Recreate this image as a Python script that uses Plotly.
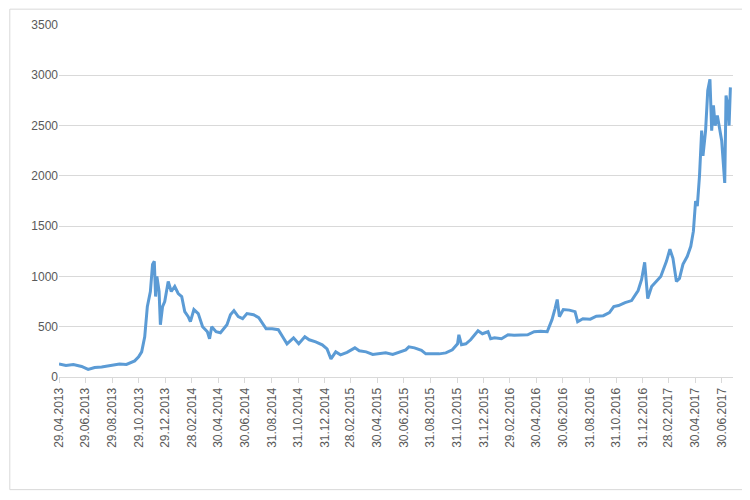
import plotly.graph_objects as go
import pandas as pd

dates = ["2013-04-29","2013-05-15","2013-06-01","2013-06-20","2013-07-05","2013-07-20","2013-08-05","2013-08-25","2013-09-15","2013-10-01","2013-10-20","2013-10-29","2013-11-05","2013-11-12","2013-11-18","2013-11-25","2013-11-30","2013-12-04","2013-12-07","2013-12-10","2013-12-15","2013-12-18","2013-12-23","2013-12-28","2014-01-05","2014-01-12","2014-01-20","2014-01-28","2014-02-05","2014-02-12","2014-02-20","2014-02-25","2014-03-05","2014-03-15","2014-03-25","2014-04-05","2014-04-10","2014-04-15","2014-04-25","2014-05-05","2014-05-20","2014-05-28","2014-06-05","2014-06-15","2014-06-25","2014-07-05","2014-07-20","2014-08-01","2014-08-18","2014-09-01","2014-09-15","2014-09-25","2014-10-05","2014-10-20","2014-11-01","2014-11-15","2014-11-25","2014-12-10","2014-12-25","2015-01-05","2015-01-14","2015-01-25","2015-02-05","2015-02-20","2015-03-10","2015-03-20","2015-04-05","2015-04-20","2015-05-05","2015-05-20","2015-06-05","2015-06-20","2015-07-05","2015-07-12","2015-07-25","2015-08-10","2015-08-20","2015-09-01","2015-09-20","2015-10-05","2015-10-20","2015-11-01","2015-11-04","2015-11-10","2015-11-20","2015-12-01","2015-12-10","2015-12-18","2015-12-28","2016-01-10","2016-01-16","2016-01-25","2016-02-10","2016-02-25","2016-03-10","2016-03-25","2016-04-10","2016-04-25","2016-05-10","2016-05-25","2016-06-05","2016-06-12","2016-06-17","2016-06-22","2016-07-01","2016-07-15","2016-07-28","2016-08-03","2016-08-15","2016-09-01","2016-09-15","2016-10-01","2016-10-15","2016-10-25","2016-11-05","2016-11-20","2016-12-05","2016-12-20","2016-12-28","2017-01-04","2017-01-11","2017-01-20","2017-01-30","2017-02-10","2017-02-23","2017-03-03","2017-03-10","2017-03-18","2017-03-25","2017-04-02","2017-04-12","2017-04-20","2017-04-26","2017-05-01","2017-05-05","2017-05-10","2017-05-15","2017-05-18","2017-05-24","2017-05-29","2017-06-03","2017-06-07","2017-06-11","2017-06-15","2017-06-20","2017-06-25","2017-06-30","2017-07-07","2017-07-10","2017-07-14","2017-07-17","2017-07-20","2017-07-23"]
prices = [130,115,125,105,75,95,100,115,130,125,160,200,250,400,700,850,1120,1150,800,1000,850,520,700,750,950,850,900,830,800,650,600,550,670,630,500,450,380,500,450,440,520,620,660,600,580,630,620,590,480,480,470,400,330,390,330,400,370,350,320,280,180,250,220,245,290,260,250,225,235,240,225,245,270,300,290,265,230,230,230,240,270,330,420,320,330,370,420,460,430,450,380,390,380,420,415,415,420,450,455,450,570,680,770,600,670,665,650,550,580,575,605,610,640,700,710,740,760,860,970,1140,780,900,950,1000,1150,1270,1180,950,980,1120,1200,1300,1450,1750,1700,2000,2450,2200,2450,2850,2960,2450,2700,2500,2600,2480,2350,1930,2800,2700,2500,2880]

tick_dates = ["2013-04-29","2013-06-29","2013-08-29","2013-10-29","2013-12-29","2014-02-28","2014-04-30","2014-06-30","2014-08-31","2014-10-31","2014-12-31","2015-02-28","2015-04-30","2015-06-30","2015-08-31","2015-10-31","2015-12-31","2016-02-29","2016-04-30","2016-06-30","2016-08-31","2016-10-31","2016-12-31","2017-02-28","2017-04-30","2017-06-30"]
tick_text = [pd.Timestamp(d).strftime("%d.%m.%Y") for d in tick_dates]

fig = go.Figure(go.Scatter(x=dates, y=prices, mode="lines", line=dict(color="#5B9BD5", width=3)))
fig.update_layout(
    width=750, height=500, paper_bgcolor="white", plot_bgcolor="white",
    margin=dict(l=51, r=25, t=17, b=131), showlegend=False,
    font=dict(family="Liberation Sans", size=12, color="#595959"),
    shapes=[dict(type="rect", xref="paper", yref="paper", x0=-0.073, y0=-0.32, x1=1.016, y1=1.045,
                 line=dict(color="#D9D9D9", width=1))],
)
fig.update_xaxes(type="date", range=["2013-04-29", "2017-07-26"], tickvals=tick_dates, ticktext=tick_text,
                 tickangle=-90, showgrid=False, showline=True, linecolor="#D9D9D9",
                 ticks="outside", tickcolor="#D9D9D9", ticklen=5, automargin=False)
fig.update_yaxes(range=[0, 3500], dtick=500, gridcolor="#D9D9D9", zeroline=False, ticks="", automargin=False)
fig.write_html("out.html")
